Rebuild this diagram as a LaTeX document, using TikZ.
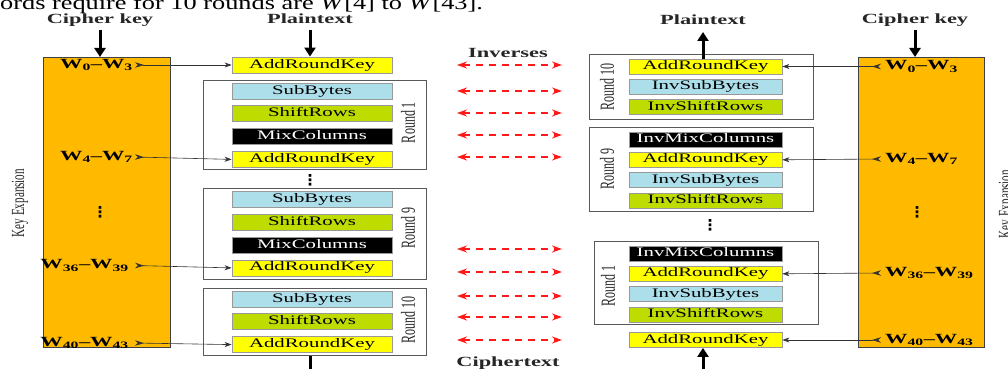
\documentclass[tikz,border=0pt]{standalone}
\usepackage{fontspec}
\setmainfont{Liberation Serif}
\newfontfamily\widefont[FakeStretch=1.6]{Liberation Serif}
\newfontfamily\pagefont[FakeStretch=1.35]{Liberation Serif}
\newfontfamily\tallfont[FakeStretch=0.6]{Liberation Serif}
\newfontfamily\symfont{DejaVu Sans}
\usepackage{xcolor}
\usepackage{tikz}
\usetikzlibrary{arrows.meta, positioning}

\definecolor{keyorange}{HTML}{FFBA00}
\definecolor{arkyellow}{HTML}{FFFF00}
\definecolor{subblue}{HTML}{ADDFEA}
\definecolor{rowgreen}{HTML}{BEDC00}

\begin{document}
\begin{tikzpicture}[x=1pt, y=-1pt,
  node distance=6pt,
  opbox/.style={draw=black!40, line width=0.8pt, inner sep=0pt,
               minimum width=160pt, minimum height=16pt, text height=8.5pt, text depth=2.5pt,
               font=\widefont\fontsize{13}{15}\selectfont},
  invop/.style={minimum width=153pt, minimum height=15pt},
  arkbox/.style={opbox, fill=arkyellow},
  subbox/.style={opbox, fill=subblue},
  rowbox/.style={opbox, fill=rowgreen},
  mixbox/.style={opbox, fill=black, text=white},
  keybox/.style={draw=black!75, line width=1.2pt, fill=keyorange, anchor=north west, inner sep=0pt},
  roundframe/.style={draw=black!65, line width=1pt, anchor=north west, inner sep=0pt},
  roundlbl/.style={rotate=90, inner sep=0pt, text=black!85, font=\tallfont\fontsize{20}{20}\selectfont},
  keylbl/.style={rotate=90, inner sep=0pt, text=black!85, font=\tallfont\fontsize{18.5}{19}\selectfont},
  toplbl/.style={anchor=base, inner sep=0pt, text=black!85, font=\widefont\bfseries\fontsize{14}{16}\selectfont},
  wlbl/.style={inner sep=0pt, font=\widefont\bfseries\fontsize{14}{16}\selectfont},
  vdotsnode/.style={inner sep=0pt, font=\symfont\bfseries\fontsize{15}{15}\selectfont},
  bigarrow/.style={-{Triangle[length=9pt,width=11pt]}, line width=3pt},
  keyarrow/.style={{Stealth[length=9pt,width=5.5pt,reversed]}-{Stealth[length=7pt,width=5pt]}, line width=0.6pt, black!80},
  invarrow/.style={{Stealth[length=10pt,width=7pt]}-{Stealth[length=10pt,width=7pt]}, line width=1.4pt, red!90, dash pattern=on 7pt off 6pt}
]
\useasboundingbox (0,0) rectangle (1008,369);
\clip (0,0) rectangle (1008,369);

\node[anchor=base west, inner sep=0pt, font=\pagefont\fontsize{19.5}{21}\selectfont] (topline) at (0,9.5)
  {ords require for 10 rounds are \textit{W}[4] to \textit{W}[43].};

\node[keybox, minimum width=127pt, minimum height=290pt] (keyL) at (43,57) {};
\node[keybox, minimum width=126pt, minimum height=290pt] (keyR) at (858,57) {};
\node[keylbl] (kexL) at (20,203) {Key Expansion};
\node[keylbl] (kexR) at (1007,204) {Key Expansion};

\node[roundframe, minimum width=223pt, minimum height=89pt] (frL1) at (203,80) {};
\node[roundframe, minimum width=223pt, minimum height=91pt] (frL9) at (203,188) {};
\node[roundframe, minimum width=223pt, minimum height=67pt] (frL10) at (203,288) {};
\node[roundframe, minimum width=224pt, minimum height=65pt] (frR10) at (589,54) {};
\node[roundframe, minimum width=224pt, minimum height=84pt] (frR9) at (589,127) {};
\node[roundframe, minimum width=224pt, minimum height=83pt] (frR1) at (594,241) {};

\node[roundlbl] (lblL1) at (408,122.5) {Round 1};
\node[roundlbl] (lblL9) at (408,228) {Round 9};
\node[roundlbl] (lblL10) at (408,320) {Round 10};
\node[roundlbl] (lblR10) at (607,87) {Round 10};
\node[roundlbl] (lblR9) at (607,169) {Round 9};
\node[roundlbl] (lblR1) at (608,286) {Round 1};

\node[arkbox] (ark0) at (312,65) {AddRoundKey};
\node[subbox] (sb1) at (312,91) {SubBytes};
\node[rowbox, below=of sb1] (sr1) {ShiftRows};
\node[mixbox, below=of sr1] (mc1) {MixColumns};
\node[arkbox, below=of mc1] (ark1) {AddRoundKey};
\node[subbox] (sb9) at (312,199.5) {SubBytes};
\node[rowbox, below=of sb9] (sr9) {ShiftRows};
\node[mixbox, below=of sr9] (mc9) {MixColumns};
\node[arkbox, below=of mc9] (ark9) {AddRoundKey};
\node[subbox] (sb10) at (312,299) {SubBytes};
\node[rowbox, below=of sb10] (sr10) {ShiftRows};
\node[arkbox, below=of sr10] (ark10) {AddRoundKey};

\node[arkbox, invop] (iark10) at (705.5,66.5) {AddRoundKey};
\node[subbox, invop, below=4.5pt of iark10] (isb10) {InvSubBytes};
\node[rowbox, invop, below=4.5pt of isb10] (isr10) {InvShiftRows};
\node[mixbox, invop] (imc9) at (705.5,139.5) {InvMixColumns};
\node[arkbox, invop, below=4.5pt of imc9] (iark9) {AddRoundKey};
\node[subbox, invop, below=4.5pt of iark9] (isb9) {InvSubBytes};
\node[rowbox, invop, below=4.5pt of isb9] (isr9) {InvShiftRows};
\node[mixbox, invop] (imc1) at (705.5,253.5) {InvMixColumns};
\node[arkbox, invop, below=4.5pt of imc1] (iark1) {AddRoundKey};
\node[subbox, invop, below=4.5pt of iark1] (isb1) {InvSubBytes};
\node[rowbox, invop, below=4.5pt of isb1] (isr1) {InvShiftRows};
\node[arkbox, invop] (iarkF) at (705.5,340) {AddRoundKey};

\node[wlbl, anchor=east] (wl0) at (133,65) {W\textsubscript{0}–W\textsubscript{3}};
\node[wlbl, anchor=east] (wl4) at (133,157) {W\textsubscript{4}–W\textsubscript{7}};
\node[wlbl, anchor=east] (wl36) at (129,265.5) {W\textsubscript{36}–W\textsubscript{39}};
\node[wlbl, anchor=east] (wl40) at (129,343) {W\textsubscript{40}–W\textsubscript{43}};
\node[wlbl, anchor=west] (wr0) at (885,66.5) {W\textsubscript{0}–W\textsubscript{3}};
\node[wlbl, anchor=west] (wr4) at (885,159) {W\textsubscript{4}–W\textsubscript{7}};
\node[wlbl, anchor=west] (wr36) at (885,273) {W\textsubscript{36}–W\textsubscript{39}};
\node[wlbl, anchor=west] (wr40) at (885,340) {W\textsubscript{40}–W\textsubscript{43}};

\node[vdotsnode] (dotsKL) at (100,212) {⋮};
\node[vdotsnode] (dotsML) at (310,180) {⋮};
\node[vdotsnode] (dotsMR) at (710,225) {⋮};
\node[vdotsnode] (dotsKR) at (917,212) {⋮};

\node[toplbl] (ckL) at (100,24) {Cipher key};
\node[toplbl] (ptL) at (310,24) {Plaintext};
\node[toplbl] (ptR) at (703,25) {Plaintext};
\node[toplbl] (ckR) at (915,24) {Cipher key};
\node[toplbl] (inv) at (508,58) {Inverses};
\node[toplbl] (ctx) at (508,366) {Ciphertext};
\coordinate (outL) at (310,369);
\coordinate (inR) at (703,369);

\draw[bigarrow] ([yshift=-6pt]ckL.base) -- (ckL.base |- keyL.north);
\draw[bigarrow] ([yshift=-6pt]ptL.base) -- (ptL.base |- ark0.north);
\draw[bigarrow] (ptR.base |- iark10.north) -- ([yshift=-7pt]ptR.base);
\draw[bigarrow] ([yshift=-6pt]ckR.base) -- (ckR.base |- keyR.north);
\draw[line width=3pt] (outL |- frL10.south) -- (outL);
\draw[bigarrow] (inR) -- (inR |- iarkF.south);

\draw[keyarrow] ([xshift=2pt]wl0.east) -- (ark0.west);
\draw[keyarrow] ([xshift=2pt]wl4.east) -- (ark1.west);
\draw[keyarrow] ([xshift=6pt]wl36.east) -- (ark9.west);
\draw[keyarrow] ([xshift=6pt]wl40.east) -- (ark10.west);
\draw[keyarrow] ([xshift=-4pt]wr0.west) -- (iark10.east);
\draw[keyarrow] ([xshift=-4pt]wr4.west) -- (iark9.east);
\draw[keyarrow] ([xshift=-4pt]wr36.west) -- (iark1.east);
\draw[keyarrow] ([xshift=-4pt]wr40.west) -- (iarkF.east);

\foreach \y [count=\i] in {65,91,113,135,157,249,272,296,317,340}{
  \coordinate (invL\i) at (457,\y);
  \coordinate (invR\i) at (562,\y);
  \draw[invarrow] (invL\i) -- (invR\i);
}
\end{tikzpicture}
\end{document}
